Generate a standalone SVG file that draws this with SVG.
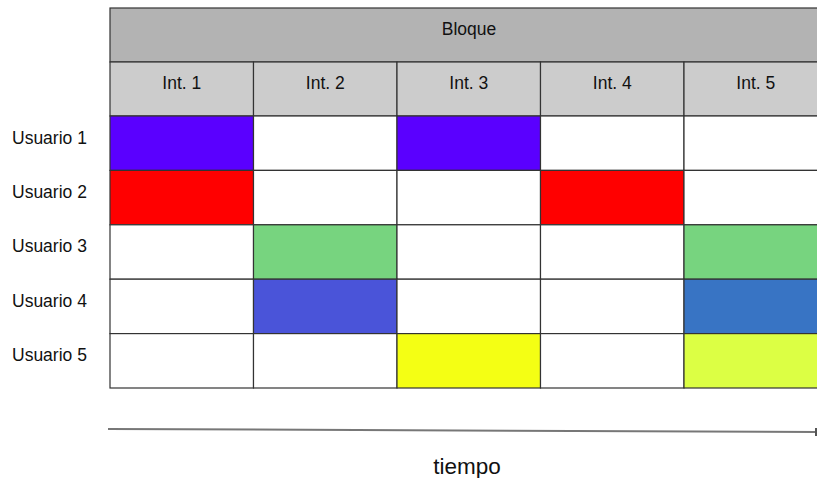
<svg xmlns="http://www.w3.org/2000/svg" width="817" height="478" viewBox="0 0 817 478">
  <defs>
    <style>
      .cell { stroke: #333333; stroke-width: 1.2; }
      .hdr { fill: #b3b3b3; }
      .sub { fill: #cccccc; }
      .lbl { font-family: "Liberation Sans", Arial, sans-serif; font-size: 17.5px; fill: #111111; }
      .mid { text-anchor: middle; }
    </style>
    <marker id="arrow" markerWidth="8" markerHeight="8" refX="4" refY="4" orient="auto" markerUnits="userSpaceOnUse">
      <rect x="0" y="0" width="8" height="8" fill="#555555"/>
    </marker>
  </defs>
  <rect width="817" height="478" fill="#ffffff"/>

  <!-- header band -->
  <g id="bloque">
    <rect class="cell hdr" x="110" y="8" width="717" height="54"/>
    <text class="lbl mid" x="469" y="35">Bloque</text>
  </g>

  <!-- interval headers -->
  <g id="intervals">
    <rect class="cell sub" x="110" y="62" width="143.5" height="54"/>
    <rect class="cell sub" x="253.5" y="62" width="143.5" height="54"/>
    <rect class="cell sub" x="397" y="62" width="143.5" height="54"/>
    <rect class="cell sub" x="540.5" y="62" width="143.5" height="54"/>
    <rect class="cell sub" x="684" y="62" width="143.5" height="54"/>
    <text class="lbl mid" x="181.75" y="89">Int. 1</text>
    <text class="lbl mid" x="325.25" y="89">Int. 2</text>
    <text class="lbl mid" x="468.75" y="89">Int. 3</text>
    <text class="lbl mid" x="612.25" y="89">Int. 4</text>
    <text class="lbl mid" x="755.75" y="89">Int. 5</text>
  </g>

  <!-- user rows -->
  <g id="usuario1">
    <text class="lbl" x="12" y="144">Usuario 1</text>
    <rect class="cell" x="110" y="116" width="143.5" height="54.4" fill="#5a00ff"/>
    <rect class="cell" x="253.5" y="116" width="143.5" height="54.4" fill="#ffffff"/>
    <rect class="cell" x="397" y="116" width="143.5" height="54.4" fill="#5a00ff"/>
    <rect class="cell" x="540.5" y="116" width="143.5" height="54.4" fill="#ffffff"/>
    <rect class="cell" x="684" y="116" width="143.5" height="54.4" fill="#ffffff"/>
  </g>
  <g id="usuario2">
    <text class="lbl" x="12" y="198">Usuario 2</text>
    <rect class="cell" x="110" y="170.4" width="143.5" height="54.4" fill="#ff0000"/>
    <rect class="cell" x="253.5" y="170.4" width="143.5" height="54.4" fill="#ffffff"/>
    <rect class="cell" x="397" y="170.4" width="143.5" height="54.4" fill="#ffffff"/>
    <rect class="cell" x="540.5" y="170.4" width="143.5" height="54.4" fill="#ff0000"/>
    <rect class="cell" x="684" y="170.4" width="143.5" height="54.4" fill="#ffffff"/>
  </g>
  <g id="usuario3">
    <text class="lbl" x="12" y="252">Usuario 3</text>
    <rect class="cell" x="110" y="224.8" width="143.5" height="54.4" fill="#ffffff"/>
    <rect class="cell" x="253.5" y="224.8" width="143.5" height="54.4" fill="#77d47f"/>
    <rect class="cell" x="397" y="224.8" width="143.5" height="54.4" fill="#ffffff"/>
    <rect class="cell" x="540.5" y="224.8" width="143.5" height="54.4" fill="#ffffff"/>
    <rect class="cell" x="684" y="224.8" width="143.5" height="54.4" fill="#77d47f"/>
  </g>
  <g id="usuario4">
    <text class="lbl" x="12" y="307">Usuario 4</text>
    <rect class="cell" x="110" y="279.2" width="143.5" height="54.4" fill="#ffffff"/>
    <rect class="cell" x="253.5" y="279.2" width="143.5" height="54.4" fill="#4a54d9"/>
    <rect class="cell" x="397" y="279.2" width="143.5" height="54.4" fill="#ffffff"/>
    <rect class="cell" x="540.5" y="279.2" width="143.5" height="54.4" fill="#ffffff"/>
    <rect class="cell" x="684" y="279.2" width="143.5" height="54.4" fill="#3874c4"/>
  </g>
  <g id="usuario5">
    <text class="lbl" x="12" y="361">Usuario 5</text>
    <rect class="cell" x="110" y="333.6" width="143.5" height="54.4" fill="#ffffff"/>
    <rect class="cell" x="253.5" y="333.6" width="143.5" height="54.4" fill="#ffffff"/>
    <rect class="cell" x="397" y="333.6" width="143.5" height="54.4" fill="#f4ff14"/>
    <rect class="cell" x="540.5" y="333.6" width="143.5" height="54.4" fill="#ffffff"/>
    <rect class="cell" x="684" y="333.6" width="143.5" height="54.4" fill="#dcff44"/>
  </g>

  <!-- time axis -->
  <g id="connectors">
    <line x1="108" y1="429" x2="819" y2="432" stroke="#777777" stroke-width="2" marker-end="url(#arrow)"/>
  </g>
  <g id="tiempo">
    <text class="lbl mid" x="467" y="474" style="font-size:22.5px">tiempo</text>
  </g>
</svg>
